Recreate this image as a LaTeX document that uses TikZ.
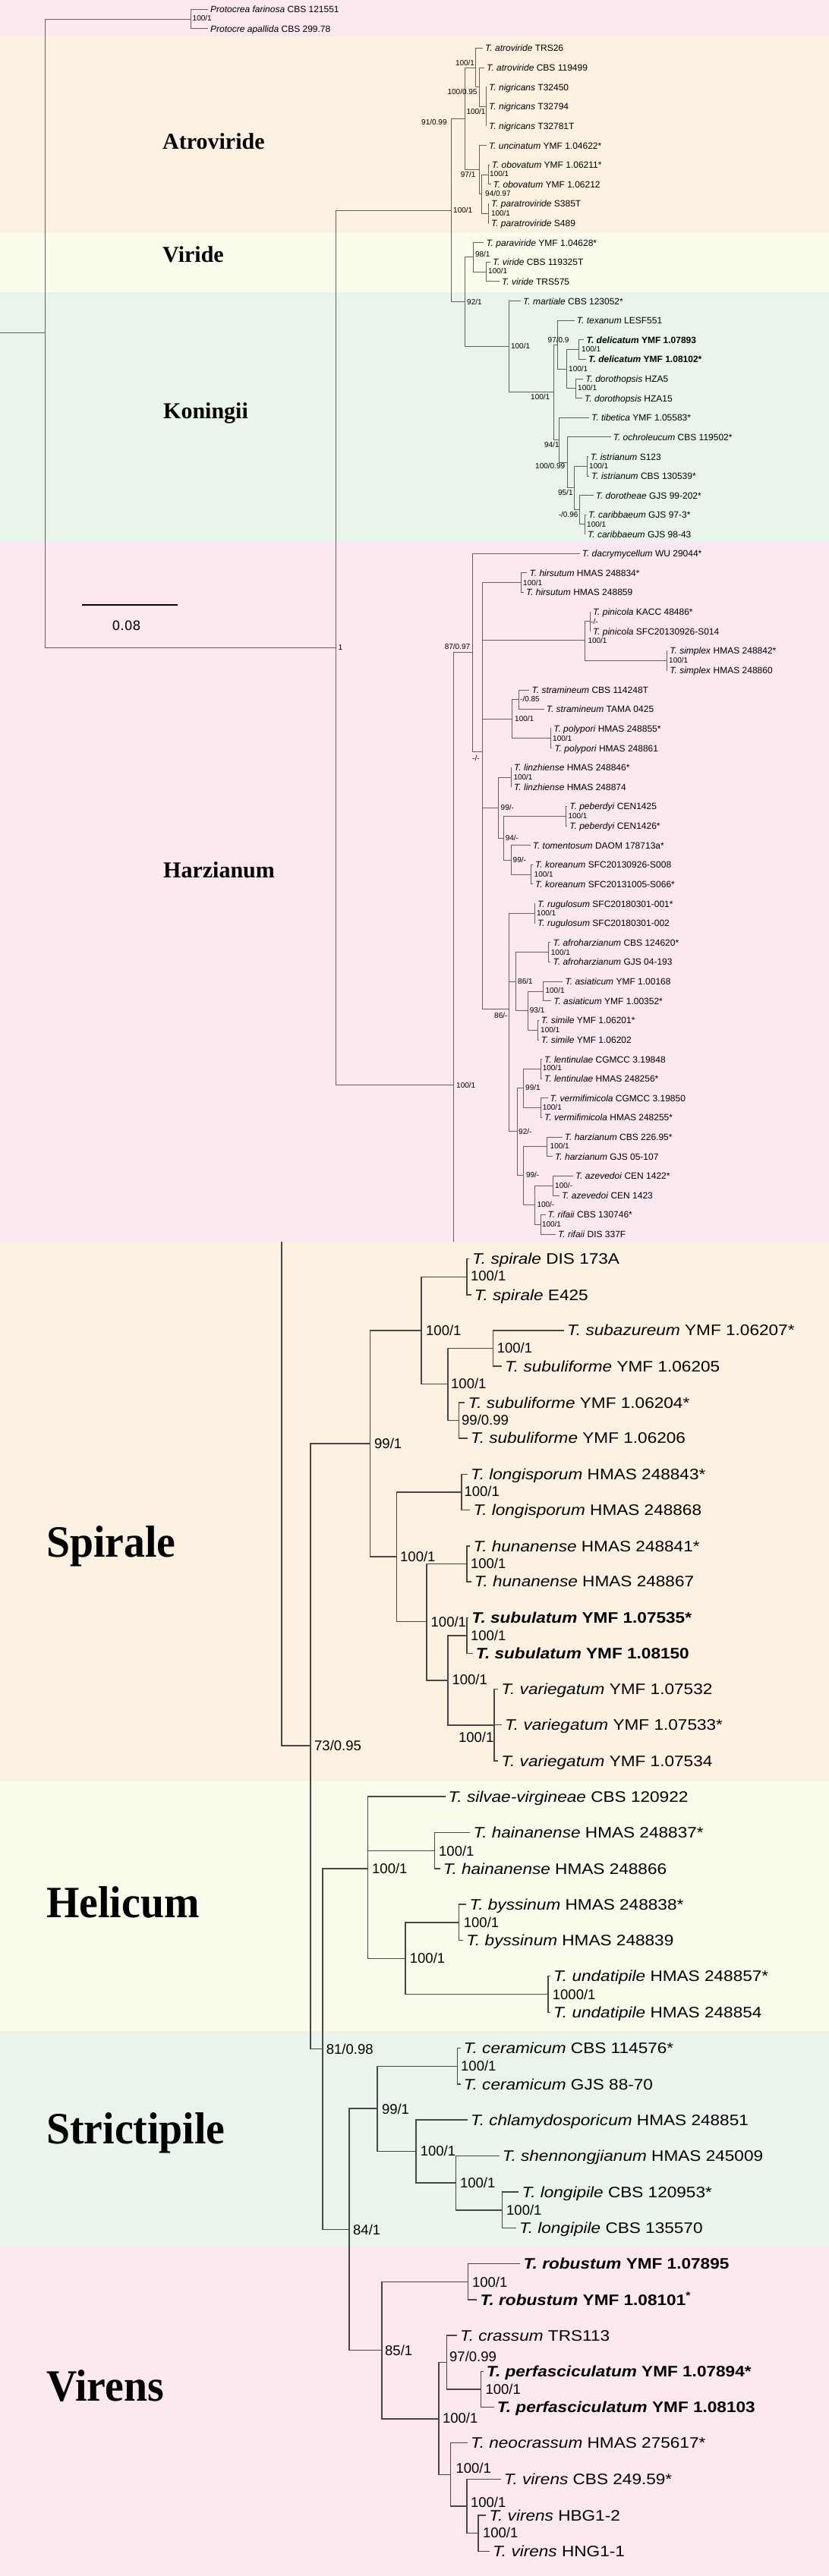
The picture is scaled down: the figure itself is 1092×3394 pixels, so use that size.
\documentclass[tikz,border=0pt]{standalone}
\usepackage{fontspec}
\setmainfont{Liberation Sans}
\newfontfamily\wsans{Liberation Sans}[FakeStretch=1.13]
\newfontfamily\tser{Liberation Serif}
\newfontfamily\tserc{Liberation Serif}[FakeStretch=0.945]
\newfontfamily\dsans{DejaVu Sans}
\definecolor{bgpink}{HTML}{FCE8F1}
\definecolor{bgorange}{HTML}{FDF2E2}
\definecolor{bgyellow}{HTML}{FCFCEC}
\definecolor{bggreen}{HTML}{E9F5EC}
\newcounter{lab}
\tikzset{
 tbr/.style={draw=black!62, line width=0.9pt},
 bbr/.style={draw=black!72, line width=1.5pt},
 tleaf/.style={anchor=west, inner xsep=3pt, inner ysep=0pt, text height=8.6pt, text depth=0pt, font=\fontsize{12}{14}\selectfont},
 bleaf/.style={anchor=west, inner xsep=4pt, inner ysep=0pt, text height=14.3pt, text depth=0pt, font=\wsans\fontsize{20}{24}\selectfont},
 tsup/.style={anchor=west, inner sep=0pt, text height=7.2pt, text depth=0pt, font=\fontsize{10}{12}\selectfont},
 bsup/.style={anchor=west, inner sep=0pt, text height=13.3pt, text depth=0pt, font=\fontsize{18.5}{22}\selectfont},
 clade/.style={anchor=base west, inner sep=0pt, font=\tser\bfseries\fontsize{30}{36}\selectfont},
 bclade/.style={anchor=base west, inner sep=0pt, font=\tserc\bfseries\fontsize{59}{66}\selectfont}
}
\newcommand\ti[1]{\textit{#1}}
\newcommand\tleafm[4]{\coordinate (#1) at (#2,#3);\node[tleaf] (#1t) at (#1) {#4};}
\newcommand\bleafm[4]{\coordinate (#1) at (#2,#3);\node[bleaf] (#1t) at (#1) {#4};}
\newcommand\nodec[3]{\coordinate (#1) at (#2,#3);}
\newcommand\tedges[2]{\foreach \cc in {#2} {\draw[tbr] (#1) |- (\cc);}}
\newcommand\bedges[2]{\foreach \cc in {#2} {\draw[bbr] (#1) |- (\cc);}}
\newcommand\tsupp[3]{\stepcounter{lab}\node[tsup] (s\thelab) at (#1,#2) {#3};}
\newcommand\bsupp[3]{\stepcounter{lab}\node[bsup] (s\thelab) at (#1,#2) {#3};}
\begin{document}
\begin{tikzpicture}[x=1pt,y=-1pt]
\useasboundingbox (0,0) rectangle (1092,3394);
% background bands
\fill[bgpink] (0,0) rectangle (1092,48);
\fill[bgorange] (0,48) rectangle (1092,307);
\fill[bgyellow] (0,307) rectangle (1092,385);
\fill[bggreen] (0,385) rectangle (1092,713);
\fill[bgpink] (0,713) rectangle (1092,1636);
\fill[bgorange] (0,1636) rectangle (1092,2347);
\fill[bgyellow] (0,2347) rectangle (1092,2676);
\fill[bggreen] (0,2676) rectangle (1092,2960);
\fill[bgpink] (0,2960) rectangle (1092,3394);
% clade labels
\node[clade] (cAtro) at (214,196) {Atroviride};
\node[clade] (cVir) at (214,345) {Viride};
\node[clade] (cKon) at (215,551.5) {Koningii};
\node[clade] (cHar) at (215,1156) {Harzianum};
\node[bclade] (cSpi) at (61,2051) {Spirale};
\node[bclade] (cHel) at (61,2526) {Helicum};
\node[bclade] (cStr) at (61,2824.7) {Strictipile};
\node[bclade] (cVirens) at (61,3163.7) {Virens};
% scale bar
\coordinate (sb1) at (108,797); \coordinate (sb2) at (234,797);
\draw[black, line width=2.2pt] (sb1) -- (sb2);
\node[inner sep=0pt, font=\dsans\fontsize{17}{20}\selectfont] (sbl) at (166.5,824) {0.08};
% ---------------- top tree: internal nodes
\nodec{R0}{0}{438} \nodec{R}{59}{438}
\nodec{Prot}{251}{25}
\nodec{n1}{442.5}{853}
\nodec{nH}{597.5}{1429} \nodec{nHbot}{597.5}{1636}
\nodec{nK1}{594.4}{277}
\nodec{nAC}{612.4}{156.3}
\nodec{nA1}{626.6}{89}
\nodec{nA2}{631.5}{114.7}
\nodec{nNig}{640}{140.3}
\nodec{nUnc}{631.5}{223.6}
\nodec{nOP}{634}{255.5}
\nodec{nObo}{643.4}{230}
\nodec{nPar}{643.4}{281}
\nodec{nVK}{612.8}{397.7}
\nodec{nVir}{623.5}{338.3}
\nodec{nVirB}{640.3}{358}
\nodec{nKon}{670.2}{456.5}
\nodec{nKonB}{729}{516.9}
\nodec{nTex}{734}{454.2}
\nodec{nDel}{746.7}{486}
\nodec{nDelA}{762.4}{460.5}
\nodec{nDor}{758.6}{511.8}
\nodec{nNf}{736.8}{579.5}
\nodec{nQ}{747.5}{609}
\nodec{nNfv}{756.7}{642.4}
\nodec{nIst}{773}{614.5}
\nodec{nMin}{763.6}{671.7}
\nodec{nCar}{770}{690.8}
\nodec{nHe}{622.7}{859.3}
\nodec{nHmm}{635}{990.8}
\nodec{nHir}{686.3}{767.5}
\nodec{nPin}{770.4}{843.8}
\nodec{nPinB}{777}{818.8}
\nodec{nSim}{878.4}{870}
\nodec{nStr}{674.8}{947}
\nodec{nStrB}{683.2}{921.7}
\nodec{nPol}{725.3}{972.7}
\nodec{nLinN}{656.4}{1064}
\nodec{nLin}{673.2}{1024}
\nodec{nNfh}{663.3}{1104}
\nodec{nPeb}{745.6}{1075.2}
\nodec{nNnh}{673.2}{1133}
\nodec{nKor}{699.7}{1152}
\nodec{nEs}{670.2}{1329.1}
\nodec{nRug}{704.2}{1203.5}
\nodec{nEsB}{679.8}{1293.3}
\nodec{nAfro}{722.6}{1254.5}
\nodec{nNt}{695}{1331.3}
\nodec{nAsi}{715.3}{1306}
\nodec{nSiml}{708.8}{1357}
\nodec{nNtw}{681.3}{1490.8}
\nodec{nNnl}{689.7}{1433.3}
\nodec{nLen}{712}{1408.5}
\nodec{nVer}{712}{1459.5}
\nodec{nNnz}{689.7}{1548.3}
\nodec{nHar}{720.7}{1510.8}
\nodec{nHm}{704.2}{1587.2}
\nodec{nAze}{728}{1562}
\nodec{nRif}{712}{1613}
% ---------------- top leaves
\tleafm{P1}{274}{12.3}{\ti{Protocrea farinosa} CBS 121551}
\tleafm{P2}{274}{37.7}{\ti{Protocre apallida} CBS 299.78}
\tleafm{L3}{636}{63.3}{\ti{T. atroviride} TRS26}
\tleafm{L4}{638}{89}{\ti{T. atroviride} CBS 119499}
\tleafm{L5}{641}{114.7}{\ti{T. nigricans} T32450}
\tleafm{L6}{641}{140.3}{\ti{T. nigricans} T32794}
\tleafm{L7}{641}{165.7}{\ti{T. nigricans} T32781T}
\tleafm{L8}{640.8}{191.7}{\ti{T. uncinatum} YMF 1.04622*}
\tleafm{L9}{644.6}{217.3}{\ti{T. obovatum} YMF 1.06211*}
\tleafm{L10}{646.5}{242.7}{\ti{T. obovatum} YMF 1.06212}
\tleafm{L11}{643.8}{268.3}{\ti{T. paratroviride} S385T}
\tleafm{L12}{643.8}{294}{\ti{T. paratroviride} S489}
\tleafm{L13}{637.3}{319.7}{\ti{T. paraviride} YMF 1.04628*}
\tleafm{L14}{645.8}{345.3}{\ti{T. viride} CBS 119325T}
\tleafm{L15}{658}{370.7}{\ti{T. viride} TRS575}
\tleafm{L16}{686}{396.7}{\ti{T. martiale} CBS 123052*}
\tleafm{L17}{756.7}{422.3}{\ti{T. texanum} LESF551}
\tleafm{L18}{769.4}{447.7}{\bfseries\ti{T. delicatum} YMF 1.07893}
\tleafm{L19}{772}{473.3}{\bfseries\ti{T. delicatum} YMF 1.08102*}
\tleafm{L20}{768.2}{499}{\ti{T. dorothopsis} HZA5}
\tleafm{L21}{767}{524.7}{\ti{T. dorothopsis} HZA15}
\tleafm{L22}{775.9}{550}{\ti{T. tibetica} YMF 1.05583*}
\tleafm{L23}{804.6}{575.7}{\ti{T. ochroleucum} CBS 119502*}
\tleafm{L24}{774.7}{601.7}{\ti{T. istrianum} S123}
\tleafm{L25}{775.9}{627.3}{\ti{T. istrianum} CBS 130539*}
\tleafm{L26}{781.6}{652.7}{\ti{T. dorotheae} GJS 99-202*}
\tleafm{L27}{772}{678}{\ti{T. caribbaeum} GJS 97-3*}
\tleafm{L28}{770.9}{703.7}{\ti{T. caribbaeum} GJS 98-43}
\tleafm{L29}{763.6}{729.3}{\ti{T. dacrymycellum} WU 29044*}
\tleafm{L30}{694.4}{754.7}{\ti{T. hirsutum} HMAS 248834*}
\tleafm{L31}{689.8}{780.3}{\ti{T. hirsutum} HMAS 248859}
\tleafm{L32}{777.8}{806}{\ti{T. pinicola} KACC 48486*}
\tleafm{L33}{777.8}{831.7}{\ti{T. pinicola} SFC20130926-S014}
\tleafm{L34}{879.2}{857}{\ti{T. simplex} HMAS 248842*}
\tleafm{L35}{879.2}{883}{\ti{T. simplex} HMAS 248860}
\tleafm{L36}{697.4}{909}{\ti{T. stramineum} CBS 114248T}
\tleafm{L37}{716.6}{934.3}{\ti{T. stramineum} TAMA 0425}
\tleafm{L38}{726.1}{959.7}{\ti{T. polypori} HMAS 248855*}
\tleafm{L39}{727.3}{985.7}{\ti{T. polypori} HMAS 248861}
\tleafm{L40}{674}{1011.3}{\ti{T. linzhiense} HMAS 248846*}
\tleafm{L41}{674}{1036.7}{\ti{T. linzhiense} HMAS 248874}
\tleafm{L42}{747.2}{1062.3}{\ti{T. peberdyi} CEN1425}
\tleafm{L43}{747.2}{1088}{\ti{T. peberdyi} CEN1426*}
\tleafm{L44}{698.6}{1113.7}{\ti{T. tomentosum} DAOM 178713a*}
\tleafm{L45}{702}{1139.3}{\ti{T. koreanum} SFC20130926-S008}
\tleafm{L46}{702}{1164.7}{\ti{T. koreanum} SFC20131005-S066*}
\tleafm{L47}{705}{1190.7}{\ti{T. rugulosum} SFC20180301-001*}
\tleafm{L48}{705}{1216.3}{\ti{T. rugulosum} SFC20180301-002}
\tleafm{L49}{725.4}{1241.7}{\ti{T. afroharzianum} CBS 124620*}
\tleafm{L50}{725.4}{1267.3}{\ti{T. afroharzianum} GJS 04-193}
\tleafm{L51}{741.4}{1293.3}{\ti{T. asiaticum} YMF 1.00168}
\tleafm{L52}{726.1}{1318.7}{\ti{T. asiaticum} YMF 1.00352*}
\tleafm{L53}{709.7}{1344.3}{\ti{T. simile} YMF 1.06201*}
\tleafm{L54}{709.7}{1370}{\ti{T. simile} YMF 1.06202}
\tleafm{L55}{713.9}{1395.7}{\ti{T. lentinulae} CGMCC 3.19848}
\tleafm{L56}{713.9}{1421.3}{\ti{T. lentinulae} HMAS 248256*}
\tleafm{L57}{721.5}{1446.7}{\ti{T. vermifimicola} CGMCC 3.19850}
\tleafm{L58}{713.9}{1472.3}{\ti{T. vermifimicola} HMAS 248255*}
\tleafm{L59}{740.7}{1498}{\ti{T. harzianum} CBS 226.95*}
\tleafm{L60}{728}{1523.7}{\ti{T. harzianum} GJS 05-107}
\tleafm{L61}{754.8}{1549.3}{\ti{T. azevedoi} CEN 1422*}
\tleafm{L62}{736.8}{1575}{\ti{T. azevedoi} CEN 1423}
\tleafm{L63}{718.5}{1600.3}{\ti{T. rifaii} CBS 130746*}
\tleafm{L64}{731.9}{1626}{\ti{T. rifaii} DIS 337F}
% ---------------- top edges
\draw[tbr] (R0) -- (R);
\tedges{R}{Prot,n1}
\tedges{Prot}{P1,P2}
\tedges{n1}{nK1,nH}
\tedges{nH}{nHe}
\draw[tbr] (nH) -- (nHbot);
\tedges{nK1}{nAC,nVK}
\tedges{nAC}{nA1,nUnc}
\tedges{nA1}{L3,nA2}
\tedges{nA2}{L4,nNig}
\tedges{nNig}{L5,L6,L7}
\tedges{nUnc}{L8,nOP}
\tedges{nOP}{nObo,nPar}
\tedges{nObo}{L9,L10}
\tedges{nPar}{L11,L12}
\tedges{nVK}{nVir,nKon}
\tedges{nVir}{L13,nVirB}
\tedges{nVirB}{L14,L15}
\tedges{nKon}{L16,nKonB}
\tedges{nKonB}{nTex,nNf}
\tedges{nTex}{L17,nDel}
\tedges{nDel}{nDelA,nDor}
\tedges{nDelA}{L18,L19}
\tedges{nDor}{L20,L21}
\tedges{nNf}{L22,nQ}
\tedges{nQ}{L23,nNfv}
\tedges{nNfv}{nIst,nMin}
\tedges{nIst}{L24,L25}
\tedges{nMin}{L26,nCar}
\tedges{nCar}{L27,L28}
\tedges{nHe}{L29,nHmm}
\tedges{nHmm}{nHir,nPin,nStr,nLinN,nEs}
\tedges{nHir}{L30,L31}
\tedges{nPin}{nPinB,nSim}
\tedges{nPinB}{L32,L33}
\tedges{nSim}{L34,L35}
\tedges{nStr}{nStrB,nPol}
\tedges{nStrB}{L36,L37}
\tedges{nPol}{L38,L39}
\tedges{nLinN}{nLin,nNfh}
\tedges{nLin}{L40,L41}
\tedges{nNfh}{nPeb,nNnh}
\tedges{nPeb}{L42,L43}
\tedges{nNnh}{L44,nKor}
\tedges{nKor}{L45,L46}
\tedges{nEs}{nRug,nEsB,nNtw}
\tedges{nRug}{L47,L48}
\tedges{nEsB}{nAfro,nNt}
\tedges{nAfro}{L49,L50}
\tedges{nNt}{nAsi,nSiml}
\tedges{nAsi}{L51,L52}
\tedges{nSiml}{L53,L54}
\tedges{nNtw}{nNnl,nNnz}
\tedges{nNnl}{nLen,nVer}
\tedges{nLen}{L55,L56}
\tedges{nVer}{L57,L58}
\tedges{nNnz}{nHar,nHm}
\tedges{nHar}{L59,L60}
\tedges{nHm}{nAze,nRif}
\tedges{nAze}{L61,L62}
\tedges{nRif}{L63,L64}
% ---------------- top support values
\tsupp{253.5}{24.3}{100/1}
\tsupp{599.8}{82.7}{100/1}
\tsupp{589.4}{121}{100/0.95}
\tsupp{555}{161}{91/0.99}
\tsupp{614.3}{146.7}{100/1}
\tsupp{606.7}{230}{97/1}
\tsupp{645}{228.7}{100/1}
\tsupp{639}{254.7}{94/0.97}
\tsupp{646.8}{280.7}{100/1}
\tsupp{597}{276.7}{100/1}
\tsupp{615}{397.7}{92/1}
\tsupp{625.8}{335}{98/1}
\tsupp{643}{357.3}{100/1}
\tsupp{672.9}{456.3}{100/1}
\tsupp{699}{523}{100/1}
\tsupp{721.5}{447.7}{97/0.9}
\tsupp{749}{485.7}{100/1}
\tsupp{766}{460.3}{100/1}
\tsupp{761}{511}{100/1}
\tsupp{716.9}{585.7}{94/1}
\tsupp{705}{614.3}{100/0.99}
\tsupp{734.9}{648.7}{95/1}
\tsupp{776}{614}{100/1}
\tsupp{735.6}{678.3}{-/0.96}
\tsupp{773}{690.7}{100/1}
\tsupp{445.5}{853}{1}
\tsupp{585.6}{852.3}{87/0.97}
\tsupp{622}{999}{-/-}
\tsupp{689}{767.7}{100/1}
\tsupp{774.3}{844.3}{100/1}
\tsupp{778}{819}{-/-}
\tsupp{881}{870}{100/1}
\tsupp{678}{947}{100/1}
\tsupp{685}{921.3}{-/0.85}
\tsupp{728}{972.7}{100/1}
\tsupp{659.5}{1063.7}{99/-}
\tsupp{676.3}{1024}{100/1}
\tsupp{665.6}{1104.3}{94/-}
\tsupp{748.3}{1075}{100/1}
\tsupp{675.5}{1133}{99/-}
\tsupp{703.5}{1152.3}{100/1}
\tsupp{651}{1338.3}{86/-}
\tsupp{707}{1203.3}{100/1}
\tsupp{682}{1293.3}{86/1}
\tsupp{725.7}{1254.7}{100/1}
\tsupp{697.7}{1331}{93/1}
\tsupp{718.4}{1305.3}{100/1}
\tsupp{712}{1357}{100/1}
\tsupp{692}{1433.3}{99/1}
\tsupp{714.6}{1407.3}{100/1}
\tsupp{714.6}{1459}{100/1}
\tsupp{683}{1491.3}{92/-}
\tsupp{692.8}{1548.3}{99/-}
\tsupp{724.5}{1510}{100/1}
\tsupp{707.3}{1586.7}{100/-}
\tsupp{731}{1561.7}{100/-}
\tsupp{713.8}{1612.7}{100/1}
\tsupp{601}{1430}{100/1}
% ---------------- bottom tree: internal nodes
\nodec{stemtop}{371}{1636}
\nodec{nSt}{409}{2300}
\nodec{nNnS}{487.5}{1902}
\nodec{nHa}{555}{1752.8}
\nodec{nSpi}{615}{1682.4}
\nodec{nHb}{589.8}{1823.4}
\nodec{nSubz}{649.7}{1776.4}
\nodec{nSubl}{604.5}{1871.5}
\nodec{nHunH}{522.3}{2051.2}
\nodec{nLong}{608}{1966.2}
\nodec{nHc}{562}{2136.3}
\nodec{nHun}{615}{2060.5}
\nodec{nHd}{589.8}{2213.8}
\nodec{nSubu}{615}{2155.2}
\nodec{nVar}{651}{2272.8}
\nodec{nEo}{425}{2699.4}
\nodec{nHel}{484.7}{2461.9}
\nodec{nHai}{572.4}{2438.4}
\nodec{nHh}{534}{2580.3}
\nodec{nBys}{604.5}{2533}
\nodec{nUnd}{722.1}{2627.7}
\nodec{nEf}{460}{2937.5}
\nodec{nNst}{497.2}{2778.2}
\nodec{nCer}{602.4}{2722.4}
\nodec{nHs}{548}{2834.6}
\nodec{nHt}{600.3}{2876.1}
\nodec{nLpi}{661.6}{2911.9}
\nodec{nEv}{502.8}{3096.3}
\nodec{nRob}{616.3}{3006.3}
\nodec{nHv}{578}{3186.8}
\nodec{nNsv}{588.4}{3112.6}
\nodec{nPer}{633.7}{3147.9}
\nodec{nHw}{593.3}{3260.5}
\nodec{nHx}{615}{3301.8}
\nodec{nHBG}{630.2}{3337.6}
% ---------------- bottom leaves
\bleafm{B1}{618}{1658.7}{\ti{T. spirale} DIS 173A}
\bleafm{B2}{620.6}{1706.1}{\ti{T. spirale} E425}
\bleafm{B3}{743}{1752.8}{\ti{T. subazureum} YMF 1.06207*}
\bleafm{B4}{661}{1799.9}{\ti{T. subuliforme} YMF 1.06205}
\bleafm{B5}{612.3}{1848.1}{\ti{T. subuliforme} YMF 1.06204*}
\bleafm{B6}{615.8}{1894.8}{\ti{T. subuliforme} YMF 1.06206}
\bleafm{B7}{615.8}{1942.6}{\ti{T. longisporum} HMAS 248843*}
\bleafm{B8}{619.3}{1989.7}{\ti{T. longisporum} HMAS 248868}
\bleafm{B9}{619.3}{2037.1}{\ti{T. hunanense} HMAS 248841*}
\bleafm{B10}{620.6}{2083.8}{\ti{T. hunanense} HMAS 248867}
\bleafm{B11}{617.2}{2131.7}{\bfseries\ti{T. subulatum} YMF 1.07535*}
\bleafm{B12}{622.7}{2178.7}{\bfseries\ti{T. subulatum} YMF 1.08150}
\bleafm{B13}{656.2}{2225.6}{\ti{T. variegatum} YMF 1.07532}
\bleafm{B14}{661}{2272.7}{\ti{T. variegatum} YMF 1.07533*}
\bleafm{B15}{656.2}{2320.2}{\ti{T. variegatum} YMF 1.07534}
\bleafm{B16}{586.5}{2367.2}{\ti{T. silvae-virgineae} CBS 120922}
\bleafm{B17}{619.3}{2414.7}{\ti{T. hainanense} HMAS 248837*}
\bleafm{B18}{579.6}{2462.1}{\ti{T. hainanense} HMAS 248866}
\bleafm{B19}{614.4}{2509.2}{\ti{T. byssinum} HMAS 248838*}
\bleafm{B20}{610.2}{2556.7}{\ti{T. byssinum} HMAS 248839}
\bleafm{B21}{725}{2603.7}{\ti{T. undatipile} HMAS 248857*}
\bleafm{B22}{725}{2651.6}{\ti{T. undatipile} HMAS 248854}
\bleafm{B23}{606.7}{2698.7}{\ti{T. ceramicum} CBS 114576*}
\bleafm{B24}{606.7}{2746.1}{\ti{T. ceramicum} GJS 88-70}
\bleafm{B25}{615.8}{2793.2}{\ti{T. chlamydosporicum} HMAS 248851}
\bleafm{B26}{657.6}{2840.5}{\ti{T. shennongjianum} HMAS 245009}
\bleafm{B27}{683.3}{2888.2}{\ti{T. longipile} CBS 120953*}
\bleafm{B28}{679.8}{2935.6}{\ti{T. longipile} CBS 135570}
\bleafm{B29}{685.4}{2982.6}{\bfseries\ti{T. robustum} YMF 1.07895}
\bleafm{B30}{628.3}{3030}{\bfseries\ti{T. robustum} YMF 1.08101\textsuperscript{*}}
\bleafm{B31}{601.8}{3077}{\ti{T. crassum} TRS113}
\bleafm{B32}{636.7}{3124.4}{\bfseries\ti{T. perfasciculatum} YMF 1.07894*}
\bleafm{B33}{650.6}{3171.4}{\bfseries\ti{T. perfasciculatum} YMF 1.08103}
\bleafm{B34}{615.8}{3218.7}{\ti{T. neocrassum} HMAS 275617*}
\bleafm{B35}{659.6}{3266.5}{\ti{T. virens} CBS 249.59*}
\bleafm{B36}{640.2}{3313.9}{\ti{T. virens} HBG1-2}
\bleafm{B37}{645}{3361.3}{\ti{T. virens} HNG1-1}
% ---------------- bottom edges
\bedges{stemtop}{nSt}
\bedges{nSt}{nNnS,nEo}
\bedges{nNnS}{nHa,nHunH}
\bedges{nHa}{nSpi,nHb}
\bedges{nSpi}{B1,B2}
\bedges{nHb}{nSubz,nSubl}
\bedges{nSubz}{B3,B4}
\bedges{nSubl}{B5,B6}
\bedges{nHunH}{nLong,nHc}
\bedges{nLong}{B7,B8}
\bedges{nHc}{nHun,nHd}
\bedges{nHun}{B9,B10}
\bedges{nHd}{nSubu,nVar}
\bedges{nSubu}{B11,B12}
\bedges{nVar}{B13,B14,B15}
\bedges{nEo}{nHel,nEf}
\bedges{nHel}{B16,nHai,nHh}
\bedges{nHai}{B17,B18}
\bedges{nHh}{nBys,nUnd}
\bedges{nBys}{B19,B20}
\bedges{nUnd}{B21,B22}
\bedges{nEf}{nNst,nEv}
\bedges{nNst}{nCer,nHs}
\bedges{nCer}{B23,B24}
\bedges{nHs}{B25,nHt}
\bedges{nHt}{B26,nLpi}
\bedges{nLpi}{B27,B28}
\bedges{nEv}{nRob,nHv}
\bedges{nRob}{B29,B30}
\bedges{nHv}{nNsv,nHw}
\bedges{nNsv}{B31,nPer}
\bedges{nPer}{B32,B33}
\bedges{nHw}{B34,nHx}
\bedges{nHx}{B35,nHBG}
\bedges{nHBG}{B36,B37}
% ---------------- bottom support values
\bsupp{414}{2300}{73/0.95}
\bsupp{493}{1902}{99/1}
\bsupp{561}{1752.8}{100/1}
\bsupp{619.8}{1681.2}{100/1}
\bsupp{594}{1822.8}{100/1}
\bsupp{654.6}{1775.8}{100/1}
\bsupp{608}{1870.7}{99/0.99}
\bsupp{527}{2051.3}{100/1}
\bsupp{611.4}{1965.2}{100/1}
\bsupp{567.5}{2136.6}{100/1}
\bsupp{619.8}{2060}{100/1}
\bsupp{595.4}{2212.6}{100/1}
\bsupp{619.8}{2154.6}{100/1}
\bsupp{603.8}{2288.8}{100/1}
\bsupp{429.7}{2699.4}{81/0.98}
\bsupp{490}{2462.1}{100/1}
\bsupp{578}{2438.4}{100/1}
\bsupp{539.7}{2580}{100/1}
\bsupp{610.7}{2533}{100/1}
\bsupp{727.7}{2627.5}{1000/1}
\bsupp{465}{2937.5}{84/1}
\bsupp{502.8}{2778.6}{99/1}
\bsupp{607}{2721.6}{100/1}
\bsupp{553.6}{2834.3}{100/1}
\bsupp{605.8}{2875.5}{100/1}
\bsupp{667}{2911.7}{100/1}
\bsupp{507}{3097}{85/1}
\bsupp{621.9}{3006.5}{100/1}
\bsupp{582.9}{3186}{100/1}
\bsupp{592}{3105}{97/0.99}
\bsupp{639.3}{3148.2}{100/1}
\bsupp{600.3}{3252.3}{100/1}
\bsupp{619.8}{3296.5}{100/1}
\bsupp{635.8}{3337}{100/1}
\end{tikzpicture}
\end{document}
